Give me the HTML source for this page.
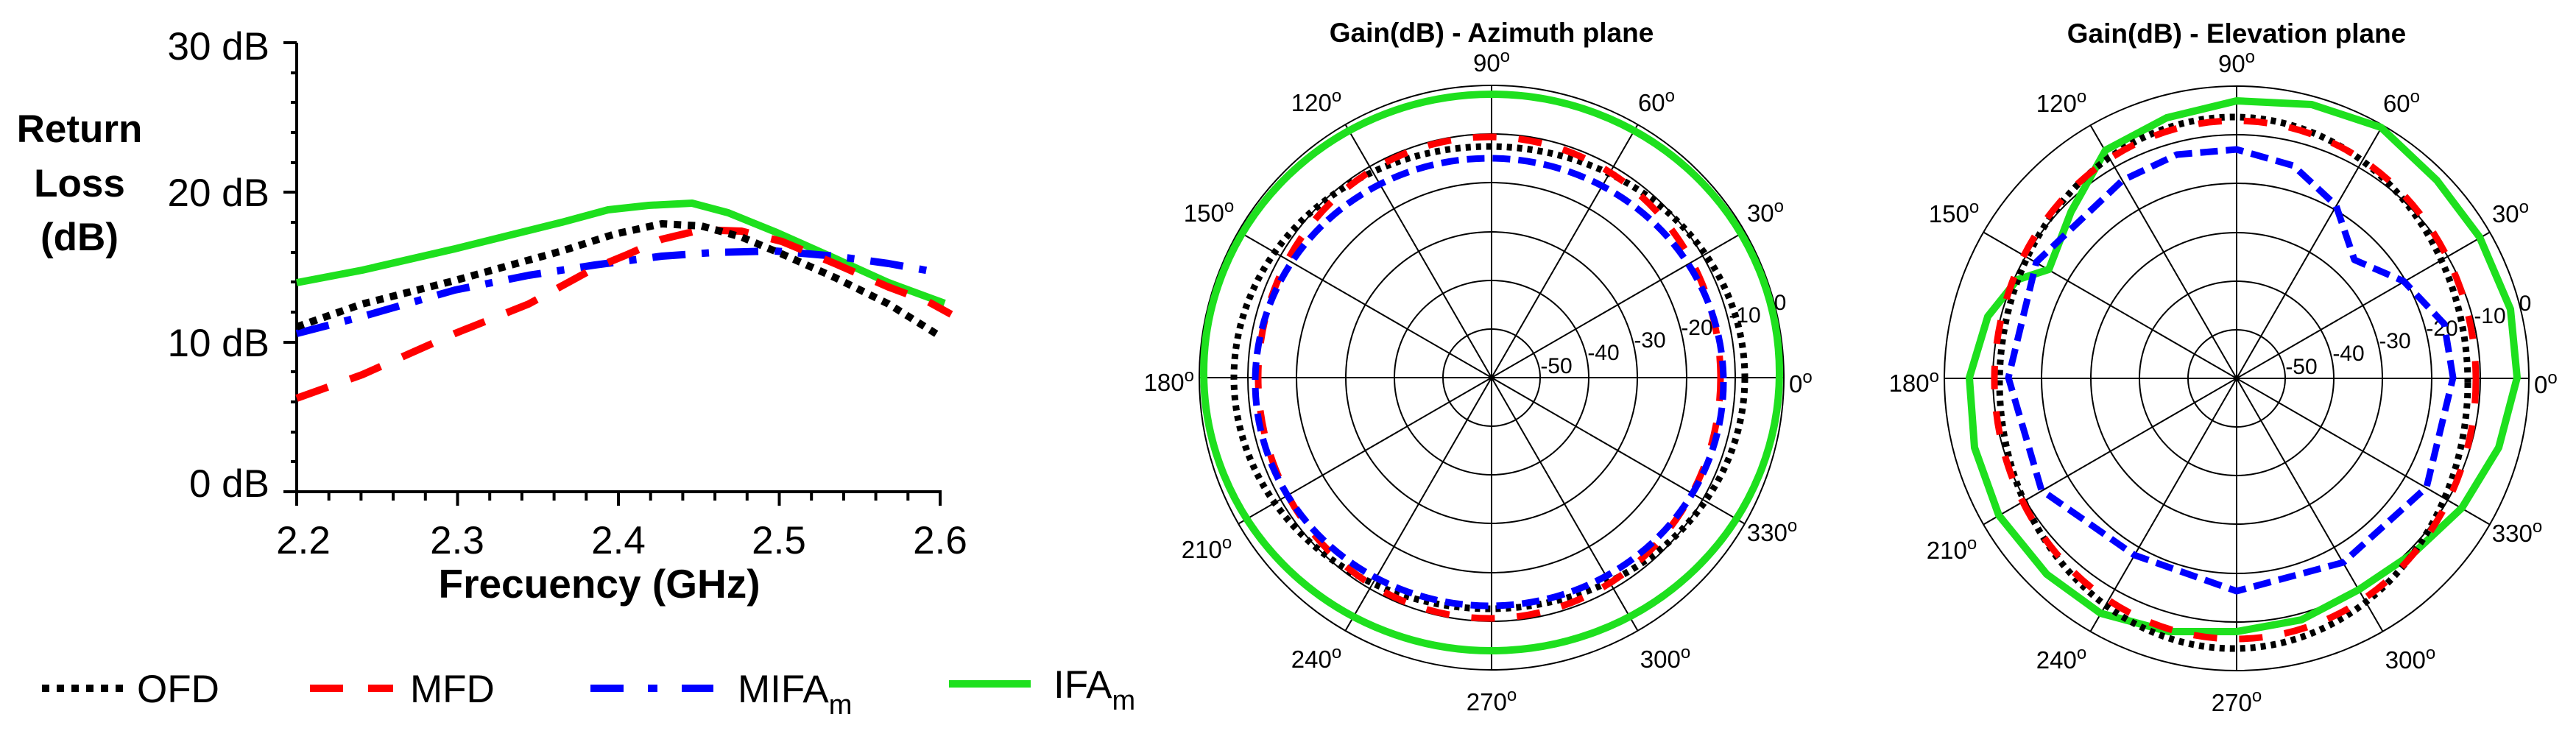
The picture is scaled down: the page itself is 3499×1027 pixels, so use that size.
<!DOCTYPE html>
<html><head><meta charset="utf-8"><style>
html,body{margin:0;padding:0;background:#fff;}
svg{display:block;}
text{font-family:"Liberation Sans",sans-serif;fill:#000;}
</style></head><body>
<svg width="3499" height="1027" viewBox="0 0 3499 1027" xmlns="http://www.w3.org/2000/svg">
<defs>
<g id="grid">
  <g fill="none" stroke="#000" stroke-width="2">
    <circle r="66"/><circle r="132"/><circle r="198"/><circle r="265"/><circle r="331"/><circle r="397"/>
    <line x1="-397" y1="0" x2="397" y2="0"/>
    <line x1="0" y1="-397" x2="0" y2="397"/>
    <line x1="-343.8" y1="-198.5" x2="343.8" y2="198.5"/>
    <line x1="-343.8" y1="198.5" x2="343.8" y2="-198.5"/>
    <line x1="-198.5" y1="-343.8" x2="198.5" y2="343.8"/>
    <line x1="-198.5" y1="343.8" x2="198.5" y2="-343.8"/>
  </g>
  <g font-size="33" text-anchor="middle">
    <text x="0" y="-416">90<tspan font-size="24" dy="-13">o</tspan></text>
    <text x="224" y="-362">60<tspan font-size="24" dy="-13">o</tspan></text>
    <text x="372" y="-212">30<tspan font-size="24" dy="-13">o</tspan></text>
    <text x="404" y="20" text-anchor="start">0<tspan font-size="24" dy="-13">o</tspan></text>
    <text x="381" y="222">330<tspan font-size="24" dy="-13">o</tspan></text>
    <text x="236" y="394">300<tspan font-size="24" dy="-13">o</tspan></text>
    <text x="0" y="452">270<tspan font-size="24" dy="-13">o</tspan></text>
    <text x="-238" y="394">240<tspan font-size="24" dy="-13">o</tspan></text>
    <text x="-387" y="245">210<tspan font-size="24" dy="-13">o</tspan></text>
    <text x="-404" y="18" text-anchor="end">180<tspan font-size="24" dy="-13">o</tspan></text>
    <text x="-384" y="-212">150<tspan font-size="24" dy="-13">o</tspan></text>
    <text x="-238" y="-362">120<tspan font-size="24" dy="-13">o</tspan></text>
  </g>
  <g font-size="30" text-anchor="middle">
    <text x="88" y="-6">-50</text>
    <text x="152" y="-24">-40</text>
    <text x="215" y="-41">-30</text>
    <text x="279" y="-58">-20</text>
    <text x="344" y="-75">-10</text>
    <text x="392" y="-92">0</text>
  </g>
</g>
</defs>

<!-- LEFT CHART -->
<g stroke="#000" stroke-width="4" fill="none">
  <line x1="403" y1="58" x2="403" y2="670"/>
  <line x1="401" y1="668" x2="1279" y2="668"/>
</g>
<g stroke="#000" stroke-width="4">
  <line x1="385" y1="58" x2="403" y2="58"/><line x1="385" y1="261" x2="403" y2="261"/><line x1="385" y1="465" x2="403" y2="465"/><line x1="385" y1="668" x2="403" y2="668"/>
  <line x1="395" y1="99" x2="403" y2="99"/><line x1="395" y1="139" x2="403" y2="139"/><line x1="395" y1="180" x2="403" y2="180"/><line x1="395" y1="221" x2="403" y2="221"/>
  <line x1="395" y1="302" x2="403" y2="302"/><line x1="395" y1="343" x2="403" y2="343"/><line x1="395" y1="383" x2="403" y2="383"/><line x1="395" y1="424" x2="403" y2="424"/>
  <line x1="395" y1="505" x2="403" y2="505"/><line x1="395" y1="546" x2="403" y2="546"/><line x1="395" y1="587" x2="403" y2="587"/><line x1="395" y1="627" x2="403" y2="627"/>
  <line x1="403" y1="668" x2="403" y2="687"/><line x1="621.5" y1="668" x2="621.5" y2="687"/><line x1="840" y1="668" x2="840" y2="687"/><line x1="1058.5" y1="668" x2="1058.5" y2="687"/><line x1="1277" y1="668" x2="1277" y2="687"/>
  <line x1="446.7" y1="668" x2="446.7" y2="680"/><line x1="490.4" y1="668" x2="490.4" y2="680"/><line x1="534.1" y1="668" x2="534.1" y2="680"/><line x1="577.8" y1="668" x2="577.8" y2="680"/>
  <line x1="665.2" y1="668" x2="665.2" y2="680"/><line x1="708.9" y1="668" x2="708.9" y2="680"/><line x1="752.6" y1="668" x2="752.6" y2="680"/><line x1="796.3" y1="668" x2="796.3" y2="680"/>
  <line x1="883.7" y1="668" x2="883.7" y2="680"/><line x1="927.4" y1="668" x2="927.4" y2="680"/><line x1="971.1" y1="668" x2="971.1" y2="680"/><line x1="1014.8" y1="668" x2="1014.8" y2="680"/>
  <line x1="1102.2" y1="668" x2="1102.2" y2="680"/><line x1="1145.9" y1="668" x2="1145.9" y2="680"/><line x1="1189.6" y1="668" x2="1189.6" y2="680"/><line x1="1233.3" y1="668" x2="1233.3" y2="680"/>
</g>
<g font-size="53" text-anchor="end">
  <text x="366" y="81">30 dB</text>
  <text x="366" y="280">20 dB</text>
  <text x="366" y="484">10 dB</text>
  <text x="366" y="675">0 dB</text>
</g>
<g font-size="53" text-anchor="middle" font-weight="bold">
  <text x="108" y="193">Return</text>
  <text x="108" y="267">Loss</text>
  <text x="108" y="340">(dB)</text>
</g>
<g font-size="53" text-anchor="middle">
  <text x="412" y="752">2.2</text>
  <text x="621" y="752">2.3</text>
  <text x="840" y="752">2.4</text>
  <text x="1058" y="752">2.5</text>
  <text x="1277" y="752">2.6</text>
</g>
<text x="814" y="812" font-size="55" font-weight="bold" text-anchor="middle">Frecuency (GHz)</text>

<g fill="none" stroke-width="10" stroke-linejoin="round">
  <polyline stroke="#1ee01e" points="403,384 492,367 618,338 763,302 826,285 881,279 940,276 989,289 1053,315 1134,351 1207,384 1283,412"/>
  <polyline stroke="#0000ff" stroke-dasharray="45 22 10 22" points="403,453 492,430 618,394 718,374 808,360 899,348 970,343 1053,341 1134,348 1207,358 1279,371"/>
  <polyline stroke="#ff0000" stroke-dasharray="45 32" points="403,541 492,509 618,453 718,413 808,364 854,345 899,325 953,312 1007,314 1062,328 1134,358 1207,390 1261,410 1292,427"/>
  <polyline stroke="#000" stroke-dasharray="10 9" points="403,444 492,413 618,381 763,341 835,318 899,304 953,307 1007,322 1062,345 1134,377 1207,413 1279,458"/>
</g>

<!-- LEGEND -->
<g stroke-width="10">
  <line x1="57" y1="935" x2="170" y2="935" stroke="#000" stroke-dasharray="10 10"/>
  <line x1="421" y1="935" x2="534" y2="935" stroke="#ff0000" stroke-dasharray="45 34"/>
  <line x1="802" y1="935" x2="969" y2="935" stroke="#0000ff" stroke-dasharray="45 33 13 33"/>
  <line x1="1289" y1="929" x2="1400" y2="929" stroke="#1ee01e"/>
</g>
<g font-size="53">
  <text x="186" y="954">OFD</text>
  <text x="557" y="954">MFD</text>
  <text x="1002" y="954">MIFA<tspan font-size="38" dy="16">m</tspan></text>
  <text x="1431" y="948">IFA<tspan font-size="38" dy="16">m</tspan></text>
</g>

<!-- AZIMUTH -->
<text x="2026" y="57" font-size="37" font-weight="bold" text-anchor="middle">Gain(dB) - Azimuth plane</text>
<g transform="translate(2026,513)">
  <use href="#grid"/>
  <g fill="none" stroke-width="9">
    <ellipse cx="0" cy="-7" rx="391" ry="378" stroke="#1ee01e" stroke-width="10"/>
    <ellipse cx="-3" cy="0" rx="347" ry="314" stroke="#000" stroke-dasharray="7 7"/>
    <ellipse cx="-3" cy="0" rx="314" ry="327" stroke="#ff0000" stroke-dasharray="32 30"/>
    <ellipse cx="-3" cy="6" rx="318" ry="304" stroke="#0000ff" stroke-dasharray="24 11"/>
  </g>
</g>

<!-- ELEVATION -->
<text x="3038" y="58" font-size="37" font-weight="bold" text-anchor="middle">Gain(dB) - Elevation plane</text>
<g transform="translate(3038,514)"><use href="#grid"/></g>
<g fill="none" stroke-width="9" stroke-linejoin="round">
  <polygon stroke="#1ee01e" stroke-width="10" points="3419,513 3410,420 3368,322 3310,245 3234,173 3140,142 3038,137 2943,160 2860,204 2813,288 2783,366 2740,380 2700,430 2675,513 2682,608 2715,700 2780,780 2853,833 2946,858 3038,858 3126,842 3204,801 3280,750 3344,690 3394,608"/>
  <ellipse cx="3034" cy="520" rx="318" ry="361" stroke="#000" stroke-dasharray="7 7"/>
  <ellipse cx="3036" cy="516" rx="327" ry="352" stroke="#ff0000" stroke-dasharray="32 30"/>
  <polygon stroke="#0000ff" stroke-dasharray="24 11" points="3332,513 3320,440 3265,382 3198,353 3173,279 3115,225 3038,203 2957,210 2883,245 2766,356 2728,513 2773,666 2899,754 3038,803 3183,764 3296,662"/>
</g>
</svg>
</body></html>
